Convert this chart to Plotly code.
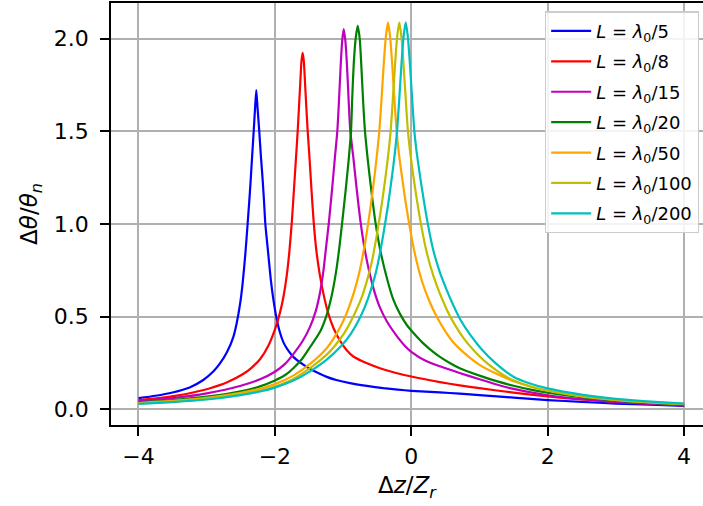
import plotly.graph_objects as go

# ---- data ----
labels = ["5", "8", "15", "20", "50", "100", "200"]
colors = ["#0000ff", "#ff0000", "#bf00bf", "#008000", "#ffa500", "#bfbf00", "#00bfbf"]

x_L5 = [-4.0, -3.75, -3.5, -3.25, -3.05, -2.90, -2.80, -2.70, -2.61, -2.56, -2.51, -2.473,
        -2.433, -2.40, -2.378, -2.355, -2.333, -2.311, -2.29, -2.273, -2.255, -2.229, -2.204,
        -2.179, -2.159, -2.14, -2.103, -2.06, -2.023, -1.98, -1.93, -1.873, -1.80, -1.73,
        -1.60, -1.49, -1.35, -1.24, -1.10, -0.90, -0.65, -0.41, -0.2, 0.0, 0.42, 0.71, 1.0,
        1.5, 2.0, 2.5, 3.0, 3.5, 4.0]
y_L5 = [0.060, 0.073, 0.091, 0.118, 0.158, 0.205, 0.25, 0.31, 0.39, 0.465, 0.57, 0.68,
        0.84, 1.0, 1.11, 1.237, 1.37, 1.50, 1.63, 1.723, 1.63, 1.50, 1.36,
        1.237, 1.12, 1.0, 0.86, 0.70, 0.595, 0.50, 0.42, 0.36, 0.315, 0.283,
        0.245, 0.219, 0.193, 0.175, 0.158, 0.141, 0.126, 0.114, 0.106, 0.100, 0.091, 0.085, 0.077,
        0.063, 0.050, 0.040, 0.031, 0.025, 0.019]

x_L8 = [-4.0, -3.7, -3.44, -3.2, -2.95, -2.7, -2.46, -2.343, -2.218, -2.1, -2.0, -1.93,
        -1.873, -1.827, -1.788, -1.75, -1.718, -1.69, -1.666, -1.647, -1.627, -1.61, -1.593,
        -1.576, -1.559, -1.539, -1.519, -1.493, -1.466, -1.433, -1.393, -1.343, -1.283,
        -1.223, -1.143, -1.045, -0.95, -0.85, -0.65, -0.46, -0.25, 0.0, 0.42, 0.71, 1.0,
        1.5, 2.0, 2.5, 3.0, 3.5, 4.0]
y_L8 = [0.050, 0.061, 0.074, 0.091, 0.114, 0.146, 0.192, 0.224, 0.27, 0.34, 0.43, 0.515,
        0.61, 0.72, 0.85, 1.02, 1.20, 1.36, 1.50, 1.63, 1.768, 1.88, 1.924,
        1.88, 1.768, 1.63, 1.50, 1.36, 1.20, 1.02, 0.86, 0.73, 0.615,
        0.525, 0.44, 0.37, 0.32, 0.285, 0.248, 0.222, 0.199, 0.177, 0.147, 0.129, 0.114,
        0.090, 0.069, 0.053, 0.040, 0.030, 0.021]

x_L15 = [-4.0, -3.5, -3.0, -2.5, -2.218, -2.0, -1.851, -1.73, -1.591, -1.485, -1.401, -1.341,
         -1.291, -1.251, -1.211, -1.161, -1.12, -1.085, -1.061, -1.035, -1.013, -0.991,
         -0.967, -0.943, -0.919, -0.894, -0.85, -0.801, -0.751, -0.691, -0.621, -0.541,
         -0.461, -0.351, -0.201, -0.1, 0.0, 0.209, 0.42, 0.709, 1.0, 1.25, 1.5, 1.75, 2.0,
         2.5, 3.0, 3.5, 4.0]
y_L15 = [0.043, 0.060, 0.086, 0.127, 0.162, 0.203, 0.245, 0.298, 0.37, 0.445, 0.53, 0.625,
         0.74, 0.87, 1.0, 1.19, 1.36, 1.50, 1.66, 1.858, 1.99, 2.052,
         1.99, 1.858, 1.67, 1.50, 1.36, 1.19, 1.03, 0.88, 0.75, 0.635,
         0.55, 0.47, 0.39, 0.345, 0.31, 0.262, 0.232, 0.196, 0.162, 0.134, 0.110, 0.091, 0.076,
         0.055, 0.040, 0.030, 0.022]

x_L20 = [-4.0, -3.5, -3.0, -2.5, -2.218, -2.0, -1.85, -1.73, -1.606, -1.486, -1.336, -1.24,
         -1.166, -1.104, -1.056, -1.016, -0.966, -0.92, -0.884, -0.866, -0.845, -0.816,
         -0.786, -0.756, -0.733, -0.706, -0.679, -0.636, -0.586, -0.526, -0.456, -0.366,
         -0.266, -0.166, -0.066, 0.0, 0.164, 0.32, 0.42, 0.564, 0.71, 1.0, 1.25, 1.5, 1.75,
         2.0, 2.5, 3.0, 3.5, 4.0]
y_L20 = [0.038, 0.050, 0.068, 0.097, 0.124, 0.156, 0.185, 0.222, 0.27, 0.335, 0.42, 0.51,
         0.615, 0.74, 0.87, 1.0, 1.17, 1.34, 1.50, 1.68, 1.858, 2.0,
         2.07, 2.0, 1.858, 1.66, 1.50, 1.34, 1.18, 1.01, 0.86, 0.72,
         0.595, 0.515, 0.455, 0.425, 0.36, 0.31, 0.283, 0.25, 0.222, 0.182, 0.152, 0.127, 0.106,
         0.090, 0.065, 0.047, 0.034, 0.025]

x_L50 = [-4.0, -3.5, -3.0, -2.5, -2.218, -2.0, -1.73, -1.485, -1.24, -1.062, -0.942, -0.842,
         -0.762, -0.672, -0.602, -0.542, -0.502, -0.469, -0.437, -0.405, -0.372, -0.342,
         -0.312, -0.279, -0.247, -0.215, -0.182, -0.142, -0.082, -0.012, 0.058, 0.158,
         0.258, 0.358, 0.458, 0.608, 0.758, 1.0, 1.258, 1.5, 1.758, 2.0, 2.5, 3.0, 3.5, 4.0]
y_L50 = [0.034, 0.045, 0.062, 0.089, 0.111, 0.136, 0.182, 0.245, 0.33, 0.43, 0.525, 0.63,
         0.74, 0.91, 1.08, 1.25, 1.38, 1.50, 1.67, 1.858, 2.015, 2.088,
         2.015, 1.858, 1.67, 1.50, 1.38, 1.27, 1.115, 0.96, 0.83, 0.69,
         0.59, 0.51, 0.445, 0.365, 0.31, 0.24, 0.19, 0.151, 0.122, 0.100, 0.070, 0.051, 0.038, 0.028]

x_L100 = [-4.0, -3.5, -3.0, -2.5, -2.218, -2.0, -1.73, -1.485, -1.24, -1.126, -0.976, -0.826,
          -0.726, -0.63, -0.576, -0.506, -0.436, -0.376, -0.336, -0.303, -0.271, -0.239,
          -0.206, -0.176, -0.146, -0.113, -0.081, -0.049, -0.016, 0.024, 0.084, 0.154,
          0.224, 0.324, 0.424, 0.524, 0.624, 0.774, 0.924, 1.124, 1.404, 1.624, 1.904,
          2.424, 2.904, 3.424, 4.0]
y_L100 = [0.030, 0.041, 0.056, 0.081, 0.101, 0.123, 0.164, 0.222, 0.295, 0.34, 0.415, 0.52,
          0.605, 0.72, 0.80, 0.94, 1.10, 1.26, 1.38, 1.50, 1.67, 1.858,
          2.015, 2.088, 2.015, 1.858, 1.67, 1.50, 1.385, 1.275, 1.125, 0.975,
          0.85, 0.72, 0.62, 0.535, 0.465, 0.38, 0.315, 0.245, 0.173, 0.138, 0.108,
          0.075, 0.054, 0.039, 0.029]

x_L200 = [-4.0, -3.5, -3.0, -2.5, -2.218, -2.0, -1.73, -1.485, -1.24, -1.032, -0.882, -0.732,
          -0.632, -0.532, -0.482, -0.412, -0.342, -0.282, -0.242, -0.209, -0.177, -0.145,
          -0.112, -0.082, -0.052, -0.019, 0.013, 0.045, 0.078, 0.118, 0.178, 0.248, 0.318,
          0.418, 0.518, 0.618, 0.718, 0.868, 1.018, 1.218, 1.498, 1.718, 1.998, 2.518,
          2.998, 3.518, 4.0]
y_L200 = [0.029, 0.039, 0.053, 0.077, 0.096, 0.117, 0.155, 0.205, 0.268, 0.34, 0.41, 0.51,
          0.60, 0.72, 0.80, 0.94, 1.10, 1.26, 1.38, 1.50, 1.67, 1.858,
          2.015, 2.088, 2.015, 1.858, 1.67, 1.50, 1.39, 1.285, 1.14, 0.99, 0.865,
          0.74, 0.645, 0.56, 0.485, 0.40, 0.33, 0.255, 0.176, 0.142, 0.113, 0.078,
          0.056, 0.041, 0.031]

xs = [x_L5, x_L8, x_L15, x_L20, x_L50, x_L100, x_L200]
ys = [y_L5, y_L8, y_L15, y_L20, y_L50, y_L100, y_L200]

x_ticks = [-4, -2, 0, 2, 4]
y_ticks = [0.0, 0.5, 1.0, 1.5, 2.0]

FONT = "DejaVu Sans"

fig = go.Figure()
for i, lab in enumerate(labels):
    fig.add_trace(go.Scatter(
        x=xs[i], y=ys[i], mode="lines",
        line=dict(color=colors[i], width=2.2, shape="spline", smoothing=0.6),
        name=f"<i>L</i> = <i>λ</i><sub>0</sub>/{lab}",
        legendgroup=str(i),
    ))

fig.update_layout(
    width=703, height=506,
    margin=dict(l=111, r=0, t=3, b=81),
    paper_bgcolor="white", plot_bgcolor="white",
    font=dict(family=FONT, color="black", size=22),
    showlegend=True,
    legend=dict(
        x=0.993, y=0.98, xanchor="right", yanchor="top",
        bgcolor="rgba(255,255,255,0.85)", bordercolor="#cccccc", borderwidth=1.3,
        font=dict(family=FONT, size=18),
        tracegroupgap=4, itemwidth=40,
    ),
)
fig.update_xaxes(
    range=[-4.403, 4.277], tickvals=x_ticks, ticks="outside", ticklen=9, tickwidth=1.7,
    tickcolor="black", showline=True, linecolor="black", linewidth=1.7, mirror=True,
    showgrid=True, gridcolor="#b0b0b0", gridwidth=1.5, zeroline=False, automargin=False,
    tickfont=dict(size=22), ticklabelstandoff=2,
    title=dict(text="Δ<i>z</i>/<i>Z</i><sub><i>r</i></sub>", font=dict(size=23), standoff=9),
)
fig.update_yaxes(
    range=[-0.0847, 2.193], tickvals=y_ticks, tickformat=".1f", ticks="outside", ticklen=9,
    tickwidth=1.7, tickcolor="black", showline=True, linecolor="black", linewidth=1.7,
    showgrid=True, gridcolor="#b0b0b0", gridwidth=1.5, zeroline=False, automargin=False,
    tickfont=dict(size=22), ticklabelstandoff=7,
    title=dict(text="Δ<i>θ</i>/<i>θ</i><sub><i>n</i></sub>", font=dict(size=23), standoff=10),
)

fig.write_html("out.html", config={"displayModeBar": False},
               post_script="document.body.style.margin='0px';")
